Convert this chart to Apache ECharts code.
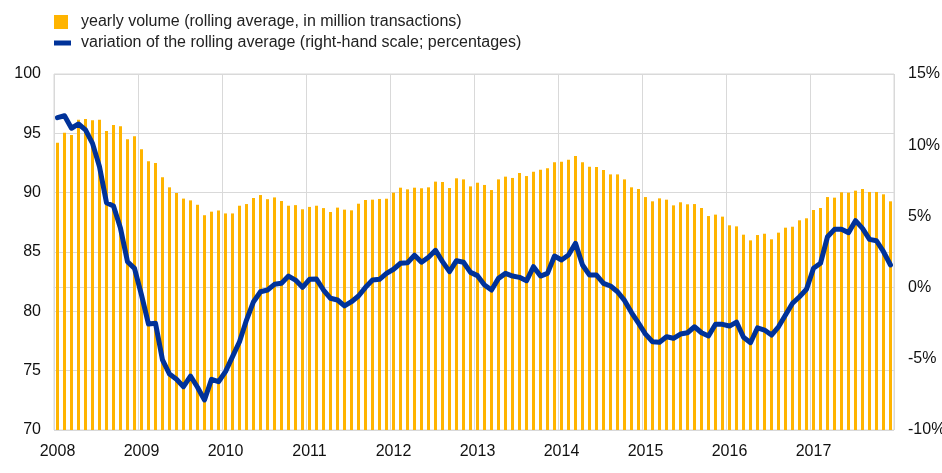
<!DOCTYPE html>
<html>
<head>
<meta charset="utf-8">
<script src="https://cdn.jsdelivr.net/npm/echarts@6/dist/echarts.min.js"></script>
<style>
  html, body { margin: 0; padding: 0; background: #fff; }
  #chart { width: 942px; height: 473px; }
</style>
</head>
<body>
<div id="chart"></div>
<script>
const years = ["2008", "2009", "2010", "2011", "2012", "2013", "2014", "2015", "2016", "2017"];
const monthNames = ["01", "02", "03", "04", "05", "06", "07", "08", "09", "10", "11", "12"];

// yearly volume (rolling average, in million transactions), monthly
const volume = [
  94.2, 95.05, 94.85, 96.15, 96.2, 96.1, 96.15, 95.2, 95.7, 95.6, 94.5, 94.75,
  93.65, 92.65, 92.5, 91.3, 90.45, 89.97, 89.5, 89.35, 88.98, 88.1, 88.4, 88.5,
  88.25, 88.25, 88.9, 89.04, 89.55, 89.8, 89.45, 89.6, 89.3, 88.9, 88.95, 88.6,
  88.8, 88.9, 88.7, 88.37, 88.74, 88.57, 88.51, 89.07, 89.38, 89.41, 89.47, 89.49,
  90.0, 90.42, 90.28, 90.42, 90.37, 90.45, 90.93, 90.9, 90.39, 91.21, 91.12, 90.53,
  90.84, 90.65, 90.22, 91.12, 91.35, 91.24, 91.66, 91.4, 91.77, 91.94, 92.05, 92.56,
  92.61, 92.78, 93.09, 92.56, 92.19, 92.16, 91.92, 91.54, 91.54, 91.12, 90.45, 90.31,
  89.63, 89.27, 89.52, 89.41, 88.93, 89.19, 89.02, 89.04, 88.71, 88.03, 88.15, 87.98,
  87.25, 87.16, 86.46, 85.98, 86.43, 86.54, 86.07, 86.63, 87.05, 87.13, 87.67, 87.84,
  88.54, 88.71, 89.63, 89.58, 90.03, 90.0, 90.17, 90.31, 90.06, 90.06, 89.86, 89.27
];

// variation of the rolling average (percentages)
const variation = [
  11.93, 12.07, 11.19, 11.49, 11.07, 10.13, 8.49, 5.96, 5.73, 4.16, 1.82, 1.35,
  -0.52, -2.56, -2.51, -5.08, -6.07, -6.44, -6.96, -6.21, -7.0, -7.89, -6.44, -6.61,
  -5.9, -4.85, -3.8, -2.28, -0.99, -0.29, -0.17, 0.23, 0.3, 0.81, 0.53, 0.02,
  0.58, 0.6, -0.17, -0.75, -0.87, -1.29, -0.99, -0.59, 0.02, 0.53, 0.58, 1.0,
  1.29, 1.71, 1.75, 2.27, 1.78, 2.13, 2.62, 1.82, 1.12, 1.89, 1.78, 1.07,
  0.84, 0.18, -0.17, 0.65, 1.0, 0.81, 0.72, 0.48, 1.47, 0.81, 1.0, 2.22,
  1.94, 2.29, 3.11, 1.59, 0.88, 0.88, 0.3, 0.11, -0.29, -0.9, -1.75, -2.5,
  -3.27, -3.8, -3.84, -3.45, -3.56, -3.26, -3.17, -2.75, -3.17, -3.4, -2.58, -2.58,
  -2.7, -2.42, -3.49, -3.87, -2.82, -2.98, -3.33, -2.75, -1.92, -1.1, -0.64, -0.12,
  1.36, 1.71, 3.57, 4.09, 4.09, 3.86, 4.7, 4.16, 3.39, 3.29, 2.52, 1.59
];

const volumeName = "yearly volume (rolling average, in million transactions)";
const variationName = "variation of the rolling average (right-hand scale; percentages)";

const months = [];
for (const y of years) {
  for (const m of monthNames) {
    months.push(y + "-" + m);
  }
}

const font = "'Liberation Sans', Arial, sans-serif";
const gridColor = "#d9d9d9";

const chart = echarts.init(document.getElementById("chart"), null, { renderer: "canvas" });

chart.setOption({
  animation: false,
  textStyle: { fontFamily: font },
  legend: [
    {
      data: [volumeName],
      left: 54,
      top: 14,
      padding: 0,
      orient: "vertical",
      icon: "rect",
      itemWidth: 14,
      itemHeight: 14,
      textStyle: { fontSize: 16, color: "#222", fontFamily: font, padding: [0, 0, 0, 8] },
    },
    {
      data: [variationName],
      left: 54,
      top: 35,
      padding: 0,
      orient: "vertical",
      icon: "rect",
      itemWidth: 17,
      itemHeight: 5,
      textStyle: { fontSize: 16, color: "#222", fontFamily: font, padding: [0, 0, 0, 5] },
    },
  ],
  grid: {
    left: 54,
    right: 48,
    top: 74,
    bottom: 43,
    outerBoundsMode: "none",
    containLabel: false,
    show: true,
    borderColor: gridColor,
    borderWidth: 1,
  },
  xAxis: {
    type: "category",
    data: months,
    boundaryGap: true,
    axisLine: { show: true, lineStyle: { color: gridColor } },
    axisTick: { show: false },
    axisLabel: {
      interval: 11,
      fontSize: 16,
      color: "#111",
      margin: 14,
      formatter: (value) => value.slice(0, 4),
    },
    splitLine: { show: true, interval: 11, lineStyle: { color: gridColor, width: 1 } },
  },
  yAxis: [
    {
      type: "value",
      min: 70,
      max: 100,
      interval: 5,
      axisLine: { show: false },
      axisTick: { show: false },
      axisLabel: { fontSize: 16, color: "#111", margin: 13 },
      splitLine: { show: true, lineStyle: { color: gridColor, width: 1 } },
    },
    {
      type: "value",
      min: -10,
      max: 15,
      interval: 5,
      position: "right",
      axisLine: { show: false },
      axisTick: { show: false },
      axisLabel: { fontSize: 16, color: "#111", margin: 14, formatter: "{value}%" },
      splitLine: { show: false },
    },
  ],
  series: [
    {
      name: volumeName,
      type: "bar",
      data: volume,
      barWidth: 3,
      itemStyle: { color: "#ffb400" },
      z: 2,
    },
    {
      name: variationName,
      type: "line",
      yAxisIndex: 1,
      data: variation,
      symbol: "none",
      smooth: false,
      lineStyle: { color: "#003299", width: 5, join: "round", cap: "round" },
      itemStyle: { color: "#003299" },
      z: 3,
    },
  ],
});
</script>
</body>
</html>
